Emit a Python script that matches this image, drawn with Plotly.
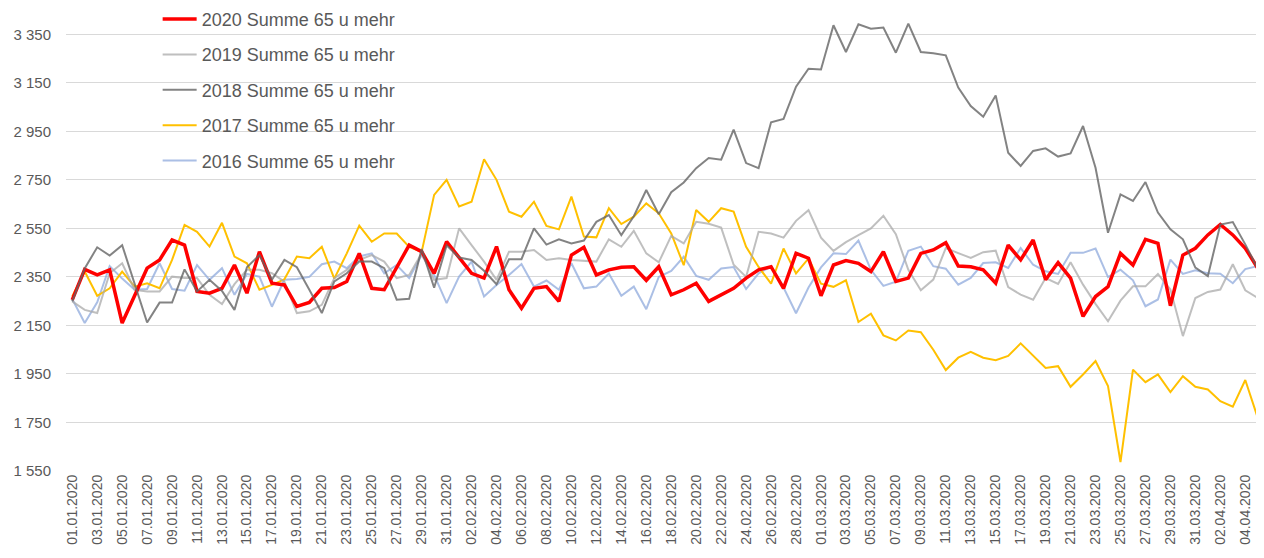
import pandas as pd
import plotly.graph_objects as go

dates = list(pd.date_range("2020-01-01", "2020-04-05").strftime("%d.%m.%Y"))

s2020 = [2255,2381,2358,2379,2160,2269,2386,2420,2502,2481,
         2290,2283,2303,2399,2283,2454,2324,2317,2228,2245,
         2303,2306,2331,2447,2303,2297,2386,2481,2454,2365,
         2495,2427,2365,2345,2475,2297,2221,2303,2310,2249,
         2440,2472,2358,2379,2390,2392,2336,2392,2276,2297,
         2324,2249,2276,2303,2345,2379,2392,2303,2447,2427,
         2272,2399,2417,2406,2372,2454,2331,2345,2447,2461,
         2491,2395,2392,2379,2324,2481,2420,2502,2338,2409,
         2345,2187,2269,2310,2447,2399,2505,2488,2231,2440,
         2468,2523,2566,2523,2468,2386]

s2019 = [2249,2214,2201,2365,2406,2297,2290,2290,2351,2345,
         2345,2276,2238,2320,2379,2379,2365,2330,2201,2208,
         2235,2345,2379,2420,2440,2413,2345,2358,2447,2338,
         2345,2550,2481,2413,2338,2454,2454,2461,2420,2427,
         2420,2417,2413,2505,2474,2540,2447,2410,2519,2488,
         2577,2569,2553,2400,2350,2536,2529,2512,2581,2625,
         2512,2457,2493,2522,2550,2602,2526,2379,2295,2339,
         2469,2448,2428,2452,2458,2308,2277,2256,2345,2321,
         2410,2318,2239,2167,2252,2311,2311,2362,2298,2106,
         2263,2288,2298,2402,2295,2263]

s2018 = [2249,2385,2472,2438,2481,2324,2162,2244,2244,2381,
         2290,2338,2292,2214,2390,2440,2338,2420,2390,2297,
         2201,2331,2365,2413,2413,2386,2256,2260,2465,2305,
         2480,2430,2420,2375,2320,2423,2423,2550,2483,2505,
         2488,2500,2577,2605,2522,2600,2708,2608,2699,2739,
         2798,2840,2833,2957,2819,2798,2987,3001,3134,3208,
         3205,3387,3277,3391,3373,3378,3274,3394,3277,3272,
         3263,3130,3054,3010,3098,2862,2807,2869,2880,2846,
         2859,2972,2800,2532,2690,2663,2741,2615,2546,2505,
         2388,2353,2566,2576,2484,2384]

s2017 = [2269,2372,2272,2303,2372,2310,2324,2303,2420,2564,
         2536,2475,2573,2434,2406,2297,2317,2340,2434,2427,
         2474,2343,2447,2561,2495,2529,2529,2474,2453,2688,
         2750,2640,2660,2835,2750,2619,2598,2660,2560,2546,
         2681,2516,2513,2633,2568,2598,2653,2612,2529,2398,
         2626,2577,2633,2619,2474,2391,2322,2467,2364,2426,
         2322,2309,2336,2164,2198,2109,2088,2129,2122,2050,
         1966,2017,2041,2017,2007,2024,2076,2026,1975,1982,
         1897,1948,2003,1900,1587,1968,1916,1948,1875,1941,
         1897,1886,1838,1815,1925,1769]

s2016 = [2259,2160,2245,2395,2343,2297,2300,2406,2300,2293,
         2399,2338,2386,2276,2362,2351,2227,2338,2341,2350,
         2402,2413,2386,2434,2447,2365,2399,2345,2440,2358,
         2242,2351,2413,2269,2317,2358,2403,2310,2335,2297,
         2406,2303,2310,2364,2272,2310,2217,2350,2375,2433,
         2354,2338,2385,2391,2300,2365,2392,2306,2200,2306,
         2389,2447,2444,2500,2379,2313,2330,2458,2475,2394,
         2384,2318,2346,2407,2410,2387,2469,2400,2373,2362,
         2449,2449,2467,2349,2380,2336,2229,2257,2421,2362,
         2377,2365,2363,2324,2382,2395]

series_names = ["2020 Summe 65 u mehr", "2019 Summe 65 u mehr", "2018 Summe 65 u mehr",
                "2017 Summe 65 u mehr", "2016 Summe 65 u mehr"]

y_ticks = [1550, 1750, 1950, 2150, 2350, 2550, 2750, 2950, 3150, 3350]
y_ticktext = [f"{v:,}".replace(",", " ") for v in y_ticks]

# drawing order (bottom to top) with legend rank kept as in the reference
styles = [
    (s2016, series_names[4], "rgba(143,170,220,0.75)", 2, 5),
    (s2017, series_names[3], "#FFC000", 2, 4),
    (s2019, series_names[1], "rgba(170,170,170,0.75)", 2, 2),
    (s2020, series_names[0], "#FF0000", 3.5, 1),
    (s2018, series_names[2], "rgba(100,100,100,0.8)", 2, 3),
]

fig = go.Figure()
for vals, name, color, width, rank in styles:
    fig.add_trace(go.Scatter(
        x=dates, y=vals, name=name, mode="lines",
        line=dict(color=color, width=width),
        legendrank=rank, legendgroup=name,
    ))

fig.update_layout(
    width=1256, height=550,
    margin=dict(l=58, r=0, t=2, b=87, autoexpand=False),
    plot_bgcolor="white", paper_bgcolor="white",
    font=dict(family="Liberation Sans, Arial, sans-serif", color="#595959"),
    showlegend=True,
    legend=dict(
        x=0.0765, y=1.02, xanchor="left", yanchor="top",
        bgcolor="rgba(0,0,0,0)", font=dict(size=18, color="#595959"),
        tracegroupgap=9, itemwidth=34,
    ),
)
fig.update_xaxes(
    type="category", tickvals=dates[::2], tickangle=-90,
    tickfont=dict(size=14, color="#595959"),
    showgrid=False, showline=False, zeroline=False, ticks="",
    range=[-0.5, len(dates) - 0.5], automargin=False,
)
fig.update_yaxes(
    range=[1550, 3450], tickvals=y_ticks, ticktext=y_ticktext,
    tickfont=dict(size=15, color="#595959"),
    showgrid=True, gridcolor="#D9D9D9", gridwidth=1,
    zeroline=False, showline=False, ticks="", ticklabelstandoff=14,
    automargin=False,
)

fig.write_html("out.html")
